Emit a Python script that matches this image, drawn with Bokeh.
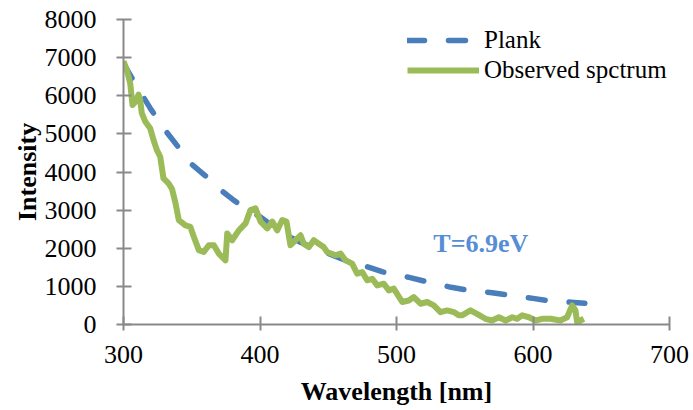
from bokeh.plotting import figure
from bokeh.models import Legend, LegendItem, Label, FixedTicker
from bokeh.embed import file_html
from bokeh.resources import INLINE

# Observed spectrum (wavelength nm, intensity)
obs_wl = [300, 302.4, 304.9, 306.6, 309, 311, 312.2, 313.4, 315.9, 319.5, 322, 324.4,
          326.9, 329.3, 333, 335.5, 338, 340.5, 345.4, 349, 351.5, 355.2, 358.8, 362.5,
          366.2, 369.8, 374.7, 376, 379.6, 384.5, 389.4, 393, 396.7, 400.4, 405.3, 409,
          412.6, 416.3, 419.4, 422.3, 426, 429.7, 432, 435.7, 439.4, 443, 446.7, 449.2,
          455.3, 459, 462.6, 467.5, 471.2, 474.9, 478.5, 482.2, 485.9, 490.7, 494.4, 498,
          504.2, 509, 512.7, 517.6, 522.5, 527.3, 532.2, 537.1, 542, 545.6, 548, 554.2,
          559, 565.2, 570, 575, 579.9, 584.8, 588.4, 592, 597, 601.8, 606.7, 612.8, 620,
          625, 628.7, 631.1, 632.3, 634.8, 637.2]
obs_int = [6900, 6680, 6330, 5760, 5850, 6030, 5895, 5545, 5325, 5150, 4840, 4580,
           4400, 3830, 3700, 3560, 3200, 2740, 2600, 2560, 2300, 1950, 1900, 2080,
           2080, 1860, 1685, 2390, 2210, 2470, 2650, 3000, 3045, 2700, 2520, 2700,
           2470, 2740, 2700, 2080, 2210, 2340, 2120, 2030, 2210, 2120, 2030, 1900,
           1815, 1860, 1685, 1595, 1335, 1375, 1160, 1200, 1025, 1070, 895, 940,
           590, 630, 720, 545, 590, 500, 325, 370, 325, 240, 240, 370,
           280, 150, 105, 190, 105, 190, 150, 240, 190, 105, 150, 150, 105,
           190, 500, 370, 60, 105, 150]

# Planck fit (T = 6.9 eV)
plank_wl = [300, 310, 320, 330, 340, 350, 360, 370, 380, 390, 400, 410, 420, 430, 440,
            450, 460, 470, 480, 490, 500, 510, 520, 530, 540, 550, 560, 570, 580, 590,
            600, 610, 620, 630, 638]
plank_int = [6850, 6230, 5650, 5120, 4660, 4200, 3900, 3560, 3280, 3020, 2830, 2560,
             2330, 2150, 2000, 1860, 1720, 1600, 1500, 1380, 1300, 1230, 1140, 1060,
             975, 915, 870, 835, 780, 730, 685, 630, 600, 580, 555]

x_ticks = [300, 400, 500, 600, 700]
y_ticks = [0, 1000, 2000, 3000, 4000, 5000, 6000, 7000, 8000]

BLUE = "#4A7EBB"
GREEN = "#9BBB59"
FONT = "Liberation Serif"

p = figure(width=693, height=410, output_backend="svg", toolbar_location=None,
           x_range=(300, 700), y_range=(0, 8000),
           min_border_left=123, min_border_right=24, min_border_top=19, min_border_bottom=86)
p.outline_line_color = None
p.xgrid.visible = False
p.ygrid.visible = False

r_plank = p.line(plank_wl, plank_int, line_color=BLUE, line_width=5.5,
                 line_dash="17 24", line_cap="round")
r_obs = p.line(obs_wl, obs_int, line_color=GREEN, line_width=6, line_join="round")

for ax in (p.xaxis[0], p.yaxis[0]):
    ax.axis_line_color = "#898989"
    ax.axis_line_width = 2
    ax.major_tick_line_color = "#898989"
    ax.major_tick_line_width = 2
    ax.minor_tick_line_color = None
    ax.major_label_text_font = FONT
    ax.major_label_text_font_size = "26px"
    ax.major_label_text_color = "black"
    ax.axis_label_text_font = FONT
    ax.axis_label_text_font_size = "26px"
    ax.axis_label_text_font_style = "bold"
    ax.axis_label_text_color = "black"

p.xaxis.ticker = FixedTicker(ticks=x_ticks)
p.yaxis.ticker = FixedTicker(ticks=y_ticks)
p.xaxis.axis_label = "Wavelength [nm]"
p.yaxis.axis_label = "Intensity"
p.xaxis.major_tick_in = 8
p.xaxis.major_tick_out = 6
p.yaxis.major_tick_in = 8
p.yaxis.major_tick_out = 7
p.xaxis.major_label_standoff = 15
p.yaxis.major_label_standoff = 20
p.xaxis.axis_label_standoff = 11
p.yaxis.axis_label_standoff = 0

legend = Legend(items=[LegendItem(label="Plank", renderers=[r_plank]),
                       LegendItem(label="Observed spctrum", renderers=[r_obs])],
                location=(284, 239))
legend.background_fill_alpha = 0
legend.border_line_color = None
legend.padding = 0
legend.margin = 0
legend.spacing = 0
legend.glyph_width = 72
legend.glyph_height = 30
legend.label_height = 30
legend.label_standoff = 5
legend.label_text_font = FONT
legend.label_text_font_size = "25px"
legend.label_text_color = "black"
p.add_layout(legend)

p.add_layout(Label(x=527, y=2118, text="T=6.9eV", text_font=FONT, text_font_size="26px",
                   text_font_style="bold", text_color="#558ED5", text_baseline="middle"))

open("out.html", "w").write(file_html(p, INLINE))
